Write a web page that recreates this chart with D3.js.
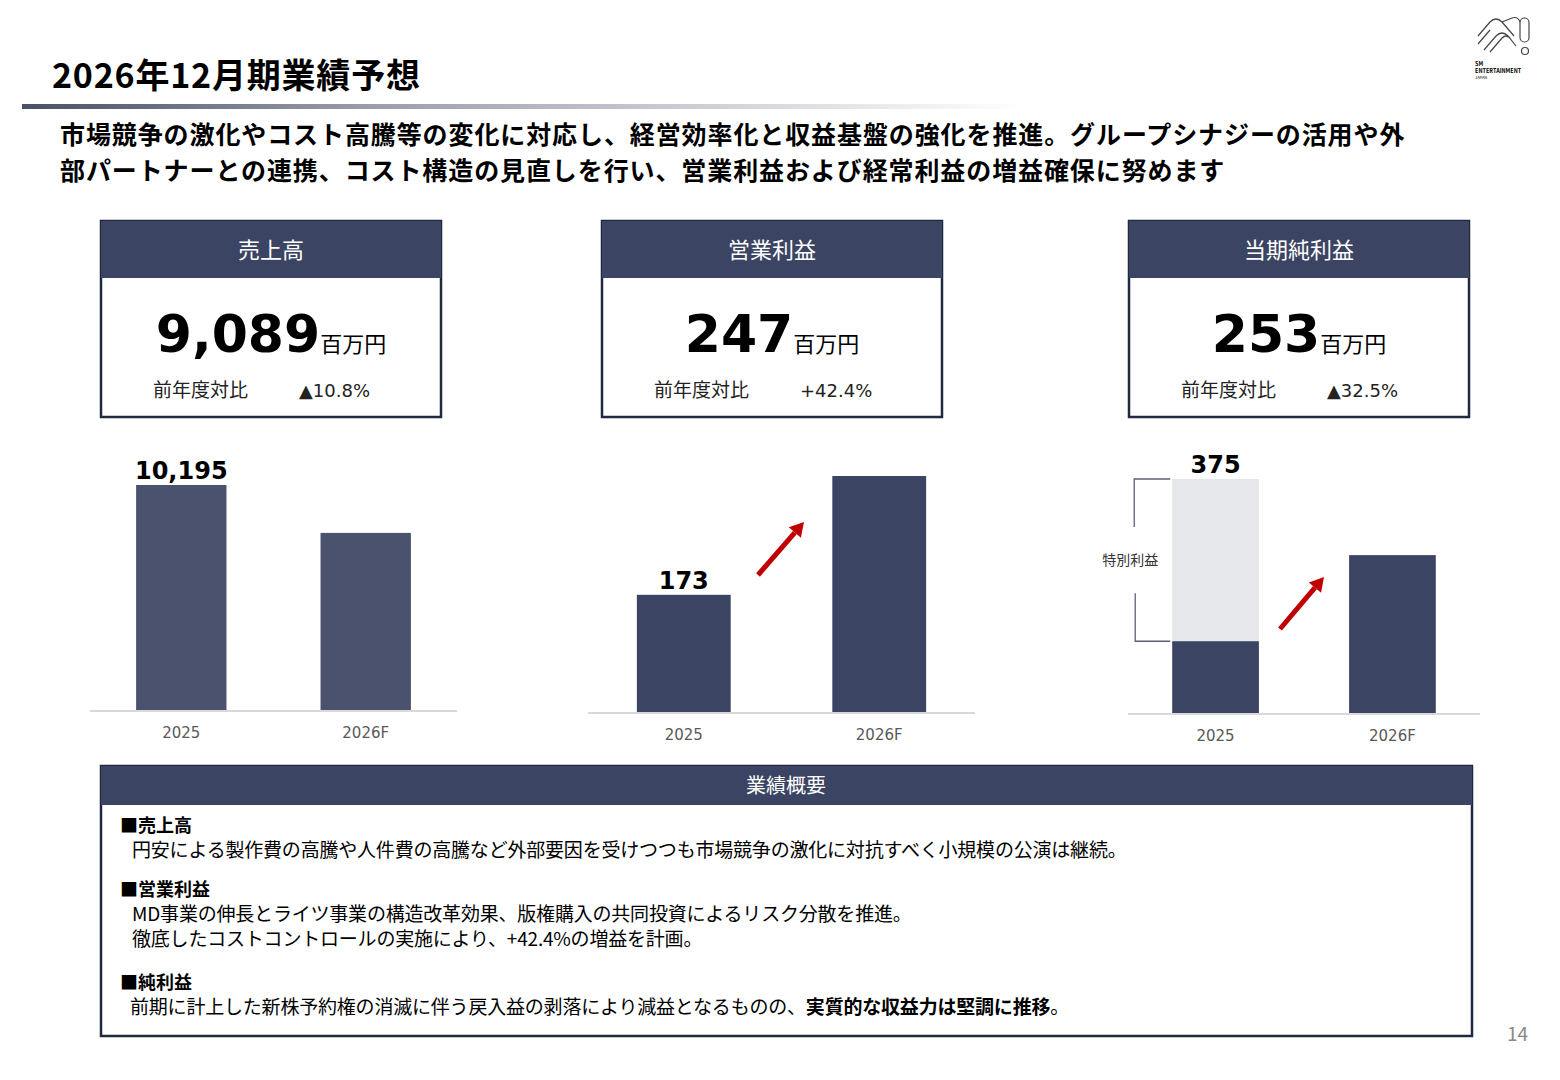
<!DOCTYPE html>
<html><head><meta charset="utf-8">
<script src="https://cdn.jsdelivr.net/npm/d3@7"></script>
<style>body{margin:0;background:#fff}svg{display:block}</style>
</head><body>
<svg id="c" width="1560" height="1080"></svg>
<script>
const years = ['2025', '2026F'];
const sales = [10195, 9089];
const opProfit = [173, 247];
const netProfit = [375, 253];
const netBase = [115, 253]; // portion excluding 特別利益
const cards = [
  {title: '売上高', value: '9,089', cmp: '▲10.8%'},
  {title: '営業利益', value: '247', cmp: '+42.4%'},
  {title: '当期純利益', value: '253', cmp: '▲32.5%'}
];
const notes = [
  {head: '■売上高', lines: ['円安による製作費の高騰や人件費の高騰など外部要因を受けつつも市場競争の激化に対抗すべく小規模の公演は継続。']},
  {head: '■営業利益', lines: ['MD事業の伸長とライツ事業の構造改革効果、版権購入の共同投資によるリスク分散を推進。', '徹底したコストコントロールの実施により、+42.4%の増益を計画。']},
  {head: '■純利益', lines: ['前期に計上した新株予約権の消滅に伴う戻入益の剥落により減益となるものの、<b>実質的な収益力は堅調に推移</b>。']}
];

const navy = '#3b4462';
const font = '"Noto Sans CJK JP","Noto Sans",sans-serif';
const svg = d3.select('#c').style('font-family', font);
const defs = svg.append('defs');

// title + fading rule
svg.append('text').attr('x', 52).attr('y', 88).attr('font-size', 34).attr('font-weight', 700).attr('letter-spacing', 0.8).text('2026年12月期業績予想');
const g1 = defs.append('linearGradient').attr('id', 'rule');
g1.append('stop').attr('offset', 0).attr('stop-color', '#4a5068');
g1.append('stop').attr('offset', 0.35).attr('stop-color', '#9a9eab');
g1.append('stop').attr('offset', 1).attr('stop-color', '#fff');
svg.append('rect').attr('x', 22).attr('y', 104).attr('width', 1000).attr('height', 5).attr('fill', 'url(#rule)');

// logo (simplified)
const logo = svg.append('g').attr('fill', 'none').attr('stroke', '#444').attr('stroke-width', 1.2);
logo.append('path').attr('d', 'M1478,36 l12,-14 q6,-6 12,0 l12,14 M1478,44 l12,-14 M1484,50 l12,-14 q6,-6 12,0 l8,10 M1490,52 l12,-14 q4,-4 8,0 M1502,22 l10,-4 q6,-2 8,4');
logo.append('rect').attr('x', 1520).attr('y', 18).attr('width', 9).attr('height', 24).attr('rx', 4.5);
logo.append('circle').attr('cx', 1525).attr('cy', 51).attr('r', 3.5);
svg.append('text').attr('x', 1475).attr('y', 66).attr('font-size', 5.5).attr('font-weight', 700).text('SM');
svg.append('text').attr('x', 1475).attr('y', 73).attr('font-size', 5.5).attr('font-weight', 700).text('ENTERTAINMENT');
svg.append('text').attr('x', 1475).attr('y', 79).attr('font-size', 4).text('JAPAN');

// lead text
const lead = ['市場競争の激化やコスト高騰等の変化に対応し、経営効率化と収益基盤の強化を推進。グループシナジーの活用や外',
  '部パートナーとの連携、コスト構造の見直しを行い、営業利益および経常利益の増益確保に努めます'];
lead.forEach((t, i) => svg.append('text').attr('x', 60).attr('y', 144 + i * 36)
  .attr('font-size', 25).attr('font-weight', 700).attr('letter-spacing', 0.9).text(t));

// KPI cards
const cardX = [101, 602, 1129];
cards.forEach((c, i) => {
  const x = cardX[i], w = 340, y = 221, h = 196;
  svg.append('rect').attr('x', x).attr('y', y).attr('width', w).attr('height', h).attr('fill', '#fff').attr('stroke', '#1f2a3e').attr('stroke-width', 2.5);
  svg.append('rect').attr('x', x).attr('y', y).attr('width', w).attr('height', 57).attr('fill', navy);
  svg.append('text').attr('x', x + w / 2).attr('y', y + 37).attr('text-anchor', 'middle').attr('fill', '#fff').attr('font-size', 22).text(c.title);
  const t = svg.append('text').attr('x', x + w / 2).attr('y', y + 131).attr('text-anchor', 'middle');
  t.append('tspan').attr('font-size', 52).attr('font-weight', 700).attr('font-family', 'Verdana,"DejaVu Sans",sans-serif').text(c.value);
  t.append('tspan').attr('font-size', 22).text('百万円');
  svg.append('text').attr('x', x + 52).attr('y', y + 176).attr('font-size', 19).attr('fill', '#222').text('前年度対比');
  svg.append('text').attr('x', x + 198).attr('y', y + 176).attr('fill', '#222').attr('font-family', 'Verdana,"DejaVu Sans",sans-serif').attr('font-size', 18).text(c.cmp);
});

// bar charts
function chart(cfg) {
  const x = d3.scaleBand().domain(years).range([cfg.x0, cfg.x1]).paddingInner(cfg.pi).paddingOuter(cfg.po);
  const y = d3.scaleLinear().domain(cfg.domain).range([cfg.base, cfg.top]);
  const g = svg.append('g');
  g.selectAll('rect.bar').data(cfg.values).join('rect').attr('class', 'bar')
    .attr('x', (d, i) => x(years[i])).attr('width', x.bandwidth())
    .attr('y', d => y(d)).attr('height', d => cfg.base - y(d)).attr('fill', cfg.color || navy);
  g.append('line').attr('x1', cfg.x0).attr('x2', cfg.x1).attr('y1', cfg.base + 1).attr('y2', cfg.base + 1).attr('stroke', '#d9d9d9').attr('stroke-width', 2);
  g.selectAll('.yr').data(years).join('text').attr('x', d => x(d) + x.bandwidth() / 2).attr('y', cfg.base + 28)
    .attr('text-anchor', 'middle').attr('font-size', 15).attr('fill', '#595959').attr('font-family', 'Verdana,"DejaVu Sans",sans-serif').text(d => d);
  return {x, y, g};
}
function label(c, i, v, txt) {
  c.g.append('text').attr('x', c.x(years[i]) + c.x.bandwidth() / 2).attr('y', c.y(v) - 6).attr('text-anchor', 'middle')
    .attr('font-size', 24).attr('font-weight', 700).attr('font-family', 'Verdana,"DejaVu Sans",sans-serif').text(txt);
}
function arrow(x1, y1, x2, y2) {
  const a = Math.atan2(y2 - y1, x2 - x1), L = 14, W = 8;
  const bx = x2 - L * Math.cos(a), by = y2 - L * Math.sin(a);
  svg.append('line').attr('x1', x1).attr('y1', y1).attr('x2', bx).attr('y2', by).attr('stroke', '#c00000').attr('stroke-width', 5);
  svg.append('path').attr('fill', '#c00000').attr('d', `M${x2},${y2}L${bx + W * Math.sin(a)},${by - W * Math.cos(a)}L${bx - W * Math.sin(a)},${by + W * Math.cos(a)}Z`);
}

const c1 = chart({values: sales, domain: [5000, 10195], x0: 90, x1: 457, base: 710, top: 485, pi: 0.51, po: 0.25, color: '#4a526e'});
label(c1, 0, sales[0], '10,195');

const c2 = chart({values: opProfit, domain: [100, 247], x0: 588, x1: 975, base: 712, top: 476, pi: 0.52, po: 0.25});
label(c2, 0, opProfit[0], '173');
arrow(758, 575, 804, 522);

const c3 = chart({values: netProfit, domain: [0, 375], x0: 1128, x1: 1480, base: 713, top: 479, pi: 0.51, po: 0.25});
c3.g.selectAll('rect.bar').filter((d, i) => i === 0).attr('fill', '#e6e7ea');
c3.g.append('rect').attr('x', c3.x(years[0])).attr('width', c3.x.bandwidth())
  .attr('y', c3.y(netBase[0])).attr('height', 713 - c3.y(netBase[0])).attr('fill', navy);
label(c3, 0, netProfit[0], '375');
arrow(1280, 629, 1324, 577);
// bracket for 特別利益
const bx = c3.x(years[0]) - 2, yt = c3.y(netProfit[0]), yb = c3.y(netBase[0]);
svg.append('path').attr('fill', 'none').attr('stroke', '#5a6078').attr('stroke-width', 1.3)
  .attr('d', `M${bx},${yt}H${bx - 36}V${yt + 48}M${bx - 35},${yb - 48}V${yb}H${bx}`);
svg.append('text').attr('x', bx - 40).attr('y', (yt + yb) / 2 + 5).attr('text-anchor', 'middle').attr('font-size', 14).attr('fill', '#333').text('特別利益');

// summary box
svg.append('rect').attr('x', 101).attr('y', 766).attr('width', 1371).attr('height', 270).attr('fill', '#fff').attr('stroke', '#1f2a3e').attr('stroke-width', 2.5);
svg.append('rect').attr('x', 101).attr('y', 766).attr('width', 1371).attr('height', 39).attr('fill', navy);
svg.append('text').attr('x', 786).attr('y', 793).attr('text-anchor', 'middle').attr('fill', '#fff').attr('font-size', 20).text('業績概要');
const noteY = [832, 896, 989];
notes.forEach((n, i) => {
  svg.append('text').attr('x', 120).attr('y', noteY[i]).attr('font-size', 18).attr('font-weight', 700).text(n.head);
  n.lines.forEach((l, j) => {
    const t = svg.append('text').attr('x', 132 - (i === 2 ? 2 : 0)).attr('y', noteY[i] + 25 + j * 25).attr('font-size', 19).attr('letter-spacing', -0.2);
    l.split(/(<b>.*?<\/b>)/).forEach(s => {
      if (!s) return;
      const b = s.startsWith('<b>');
      t.append('tspan').attr('font-weight', b ? 700 : 400).text(s.replace(/<\/?b>/g, ''));
    });
  });
});

svg.append('text').attr('x', 1528).attr('y', 1041).attr('text-anchor', 'end').attr('font-size', 19).attr('fill', '#888').text('14');
</script>
</body></html>
